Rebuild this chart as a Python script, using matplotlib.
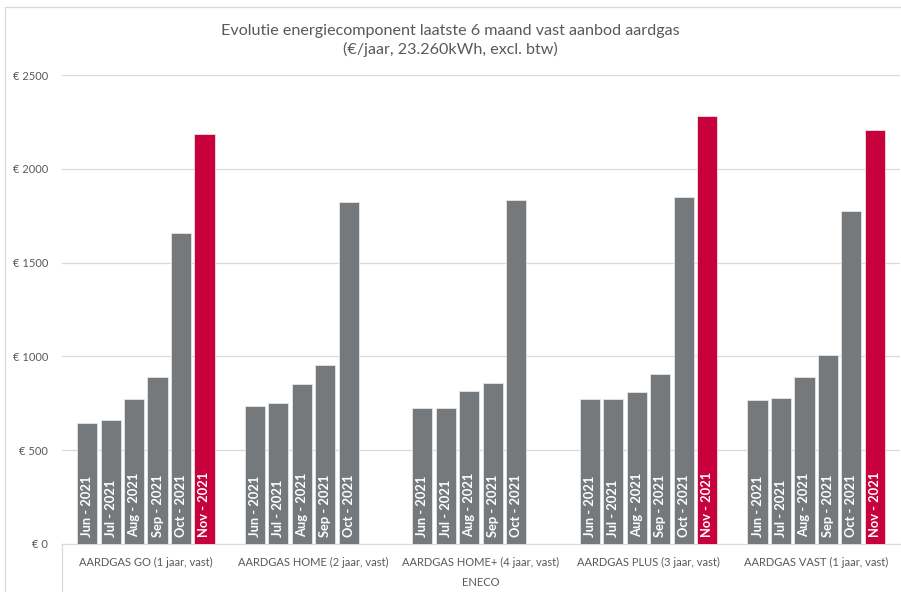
import numpy as np
import matplotlib.pyplot as plt
import matplotlib.lines as mlines

plt.rcParams['font.family'] = ['Lato', 'DejaVu Sans']

# data
products = ['AARDGAS GO (1 jaar, vast)', 'AARDGAS HOME (2 jaar, vast)',
            'AARDGAS HOME+ (4 jaar, vast)', 'AARDGAS PLUS (3 jaar, vast)',
            'AARDGAS VAST (1 jaar, vast)']
months = ['Jun - 2021', 'Jul - 2021', 'Aug - 2021', 'Sep - 2021', 'Oct - 2021', 'Nov - 2021']
# one list per product, None where no value
go = [645, 659, 771, 890, 1656, 2185]
home = [736, 752, 853, 954, 1823, None]
home_plus = [725, 725, 816, 858, 1834, None]
plus = [773, 773, 809, 906, 1848, 2283]
vast = [766, 778, 892, 1007, 1773, 2207]
values = [go, home, home_plus, plus, vast]
supplier = 'ENECO'

grey = '#76797c'
red = '#c8003c'
txt = '#595959'

fig = plt.figure(figsize=(9.01, 5.92), dpi=100)
ax = fig.add_axes([62/901, 48/592, 838/901, 469/592])

n = len(months)
slot = 0.84 / n
for i, vals in enumerate(values):
    for j, v in enumerate(vals):
        if v is None:
            continue
        x = i - 0.42 + slot * (j + 0.5)
        col = red if j == n - 1 else grey
        ax.bar(x, v, width=slot * 0.86, color=col, edgecolor='#e6e6e6', linewidth=0.6, zorder=3)
        ax.annotate(months[j], (x, 0), xytext=(0, 5), textcoords='offset points',
                    rotation=90, ha='center', va='bottom', color='white',
                    fontsize=9.3, fontweight='bold', zorder=4)

ax.set_xlim(-0.5, len(products) - 0.5)
ax.set_ylim(0, 2500)
ax.set_yticks(np.arange(0, 2501, 500))
ax.set_yticklabels(['€ %d' % t for t in np.arange(0, 2501, 500)], color=txt, fontsize=8)
ax.tick_params(axis='y', length=0, pad=10)
ax.set_xticks(range(len(products)))
ax.set_xticklabels(products, color=txt, fontsize=8)
ax.tick_params(axis='x', length=0, pad=9)
ax.grid(axis='y', color='#d9d9d9', linewidth=0.9, zorder=0)
for s in ['top', 'right', 'left']:
    ax.spines[s].set_visible(False)
ax.spines['bottom'].set_color('#d9d9d9')

# multi-level category axis
ax.add_line(mlines.Line2D([0, 0], [0, -48/469], transform=ax.transAxes,
                          color='#d9d9d9', linewidth=0.9, clip_on=False))
ax.text(0.5, -39/469, supplier, transform=ax.transAxes, ha='center', va='center',
        color=txt, fontsize=8)

# chart border
fig.add_artist(mlines.Line2D([5/901, 5/901, 901/901], [0, 585/592, 585/592],
                             color='#d9d9d9', linewidth=0.9))

fig.text(0.5, 561/592, 'Evolutie energiecomponent laatste 6 maand vast aanbod aardgas',
         ha='center', va='center', color=txt, fontsize=11.6)
fig.text(0.5, 543/592, '(€/jaar, 23.260kWh, excl. btw)',
         ha='center', va='center', color=txt, fontsize=11.6)

fig.savefig('out.png', dpi=100)
